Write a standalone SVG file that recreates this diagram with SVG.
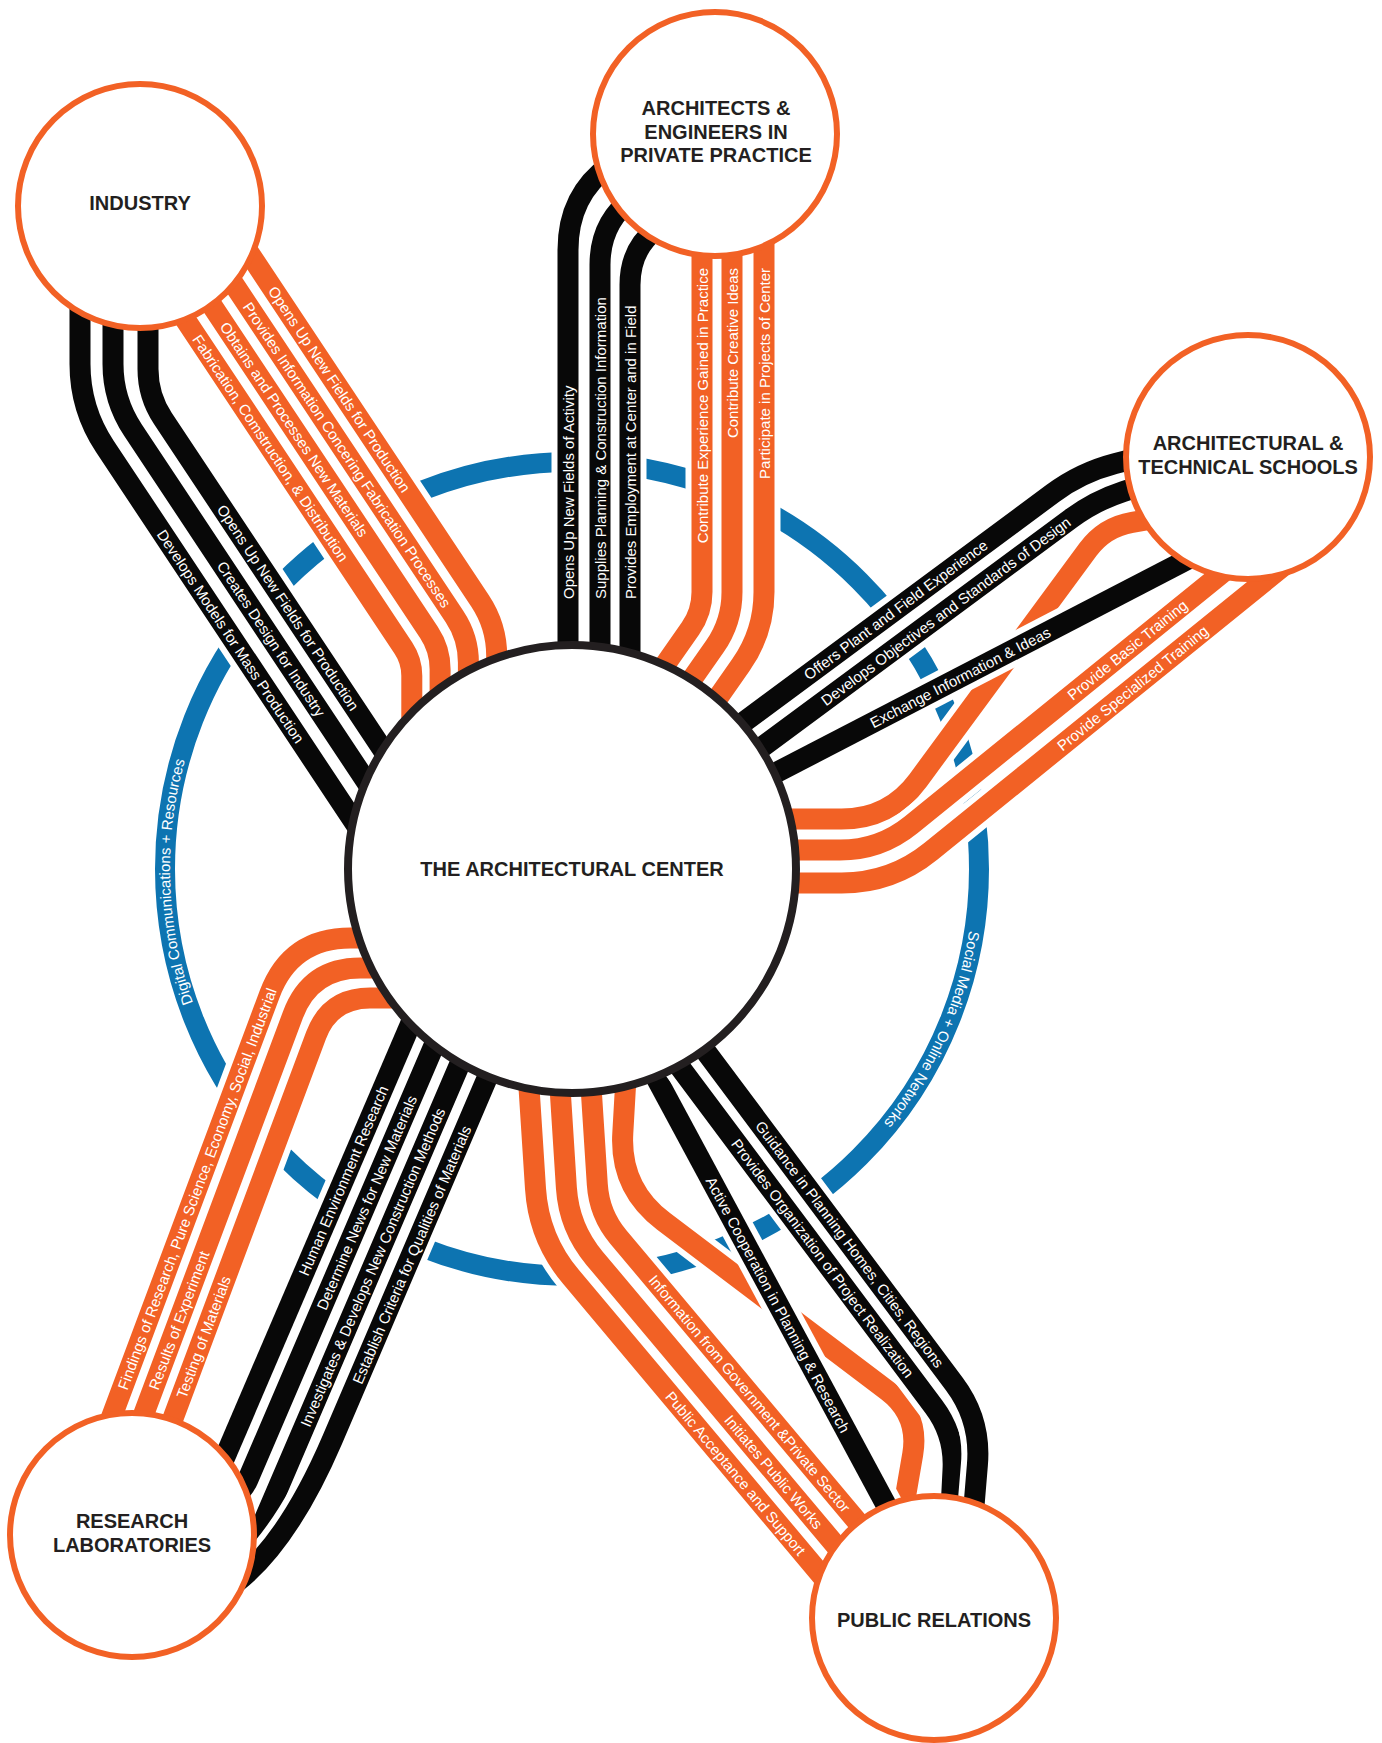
<svg xmlns="http://www.w3.org/2000/svg" xmlns:xlink="http://www.w3.org/1999/xlink" width="1382" height="1743" viewBox="0 0 1382 1743">
<style>
.case{fill:none;stroke:#fff;stroke-width:33;stroke-linejoin:round}
.or{fill:none;stroke:#f26125;stroke-width:21;stroke-linejoin:round}
.bk{fill:none;stroke:#080808;stroke-width:21;stroke-linejoin:round}
.lbl{font-family:"Liberation Sans",Arial,Helvetica,sans-serif;font-size:15px;fill:#fff;dominant-baseline:central}
.end{text-anchor:end}
.rt{font-family:"Liberation Sans",Arial,Helvetica,sans-serif;font-size:15px;fill:#fff;text-anchor:middle}
.node{fill:#fff;stroke:#f26125;stroke-width:6}
.nt{font-family:"Liberation Sans",Arial,Helvetica,sans-serif;font-size:20px;font-weight:bold;fill:#231f20;text-anchor:middle}
</style>
<defs>
<path id="io1" d="M231.3,226.2 L480.1,601 Q496.7,626 496.7,656 L496.7,760"/>
<path id="io2" d="M203,237.8 L454.6,616.8 Q468.4,637.6 468.4,662.6 L468.4,770"/>
<path id="io3" d="M174.7,249.4 L429,632.5 Q440.1,649.2 440.1,669.2 L440.1,780"/>
<path id="io4" d="M146.4,261 L403.5,648.3 Q411.8,660.8 411.8,675.8 L411.8,790"/>
<path id="ib1" d="M80,290 L80,364 Q80,409 104.9,446.5 L378.6,858.8"/>
<path id="ib2" d="M113,300 L113,364 Q113,400 132.9,430 L400.6,833.2"/>
<path id="ib3" d="M148,300 L148,369 Q148,396 162.9,418.5 L424.5,812.5"/>
<path id="ab1" d="M568,720 L568,250 Q568,195 610,165 L650,140"/>
<path id="ab2" d="M600,720 L600,265 Q600,222 633,198 L665,175"/>
<path id="ab3" d="M630,720 L630,285 Q630,250 655,230 L680,210"/>
<path id="ao1" d="M702,200 L702,592 Q702,612 690.5,628.4 L615.9,734.9"/>
<path id="ao2" d="M732,200 L732,592 Q732,622 714.8,646.6 L645.9,744.9"/>
<path id="ao3" d="M764,200 L764,592 Q764,632 741,664.8 L677.9,754.9"/>
<path id="sb1" d="M696.8,756.9 L1052.9,493.3 Q1081,472.5 1114.9,463.7 L1163.3,451.2"/>
<path id="sb2" d="M723.2,775.8 L1070.9,518.6 Q1095,500.7 1123.5,491.4 L1171,475.9"/>
<path id="sb3" d="M706,809 L1250,527"/>
<path id="so1" d="M760,819 L841.5,819 Q889.5,819 918,780.4 L1088,549.5 Q1104.6,527 1132.2,522.3 L1175,515"/>
<path id="so2" d="M760,850 L840,850 Q880,850 911.1,824.8 L1245.2,554.4"/>
<path id="so3" d="M770,883 L841.7,883 Q891.7,883 930.6,851.5 L1284.1,565.4"/>
<path id="ro1" d="M97,1456 L269.6,994.2 Q290.6,938 350.6,938 L420,938"/>
<path id="ro2" d="M124.2,1466.4 L292.9,1014.9 Q310.4,968 360.4,968 L425,968"/>
<path id="ro3" d="M151.3,1476.5 L316,1035.5 Q330,998 370,998 L435,998"/>
<path id="rb1" d="M429.4,980 L216.3,1477.1"/>
<path id="rb2" d="M460,985 L247.7,1480 Q239.1,1500 200,1520"/>
<path id="rb3" d="M489.4,995 L264.3,1520 Q251.5,1550 215,1575"/>
<path id="rb4" d="M518.4,1005 L332.2,1440 Q272,1580 195,1605"/>
<path id="pk1" d="M622,1014.4 L905,1540"/>
<path id="pk2" d="M634.9,1006.9 L934,1407 Q955,1435 953,1470 L950,1530"/>
<path id="pk3" d="M660.1,990.4 L954.3,1384 Q981.3,1420 977.4,1464.8 L972,1530"/>
<path id="po1" d="M522.4,985 L535.5,1188.6 Q538.7,1238.5 570.9,1276.8 L840.9,1598.5"/>
<path id="po2" d="M553.5,985 L566.4,1187.9 Q569,1227.8 594.7,1258.4 L871.2,1587.8"/>
<path id="po3" d="M584.5,985 L597.3,1184.3 Q599.2,1214.2 618.5,1237.2 L901.4,1574.2"/>
<path id="po4" d="M631.3,985 L622.8,1133.1 Q619.5,1188 663.3,1221.2 L887.6,1390.8 Q919.5,1415 912.7,1454.4 L900.8,1523.4"/>
<path id="arcL" d="M194.2,1006.5 A402,402 0 0,1 194.2,731.5"/>
<path id="arcR" d="M967.9,799.2 A402,402 0 0,1 773,1217.1"/>
</defs>

<g id="network-ring">
<circle cx="572" cy="869" r="407" fill="none" stroke="#0d74b1" stroke-width="20"/>
<text class="rt"><textPath href="#arcL" startOffset="127">Digital Communications + Resources</textPath></text>
<text class="rt"><textPath href="#arcR" startOffset="238.5">Social Media + Online Networks</textPath></text>
</g>

<g id="connectors">
<g id="industry-links">
<use href="#io1" class="case"/><use href="#io1" class="or"/>
<use href="#io2" class="case"/><use href="#io2" class="or"/>
<use href="#io3" class="case"/><use href="#io3" class="or"/>
<use href="#io4" class="case"/><use href="#io4" class="or"/>
<use href="#ib1" class="case"/><use href="#ib1" class="bk"/>
<use href="#ib2" class="case"/><use href="#ib2" class="bk"/>
<use href="#ib3" class="case"/><use href="#ib3" class="bk"/>
</g>
<g id="architects-links">
<use href="#ab1" class="case"/><use href="#ab1" class="bk"/>
<use href="#ab2" class="case"/><use href="#ab2" class="bk"/>
<use href="#ab3" class="case"/><use href="#ab3" class="bk"/>
<use href="#ao1" class="case"/><use href="#ao1" class="or"/>
<use href="#ao2" class="case"/><use href="#ao2" class="or"/>
<use href="#ao3" class="case"/><use href="#ao3" class="or"/>
</g>
<g id="research-links">
<use href="#ro1" class="case"/><use href="#ro1" class="or"/>
<use href="#ro2" class="case"/><use href="#ro2" class="or"/>
<use href="#ro3" class="case"/><use href="#ro3" class="or"/>
<use href="#rb1" class="case"/><use href="#rb1" class="bk"/>
<use href="#rb2" class="case"/><use href="#rb2" class="bk"/>
<use href="#rb3" class="case"/><use href="#rb3" class="bk"/>
<use href="#rb4" class="case"/><use href="#rb4" class="bk"/>
</g>
<g id="schools-links">
<use href="#so1" class="case"/><use href="#so1" class="or"/>
<use href="#so2" class="case"/><use href="#so2" class="or"/>
<use href="#so3" class="case"/><use href="#so3" class="or"/>
<use href="#sb1" class="case"/><use href="#sb1" class="bk"/>
<use href="#sb2" class="case"/><use href="#sb2" class="bk"/>
<use href="#sb3" class="case"/><use href="#sb3" class="bk"/>
</g>
<g id="public-relations-links">
<use href="#po1" class="case"/><use href="#po1" class="or"/>
<use href="#po2" class="case"/><use href="#po2" class="or"/>
<use href="#po3" class="case"/><use href="#po3" class="or"/>
<use href="#po4" class="case"/><use href="#po4" class="or"/>
<use href="#pk1" class="case"/><use href="#pk1" class="bk"/>
<use href="#pk2" class="case"/><use href="#pk2" class="bk"/>
<use href="#pk3" class="case"/><use href="#pk3" class="bk"/>
</g>

<g id="link-labels">
<text class="lbl" transform="translate(272.2,287.8) rotate(56.4)">Opens Up New Fields for Production</text>
<text class="lbl" transform="translate(246.8,303.8) rotate(56.4)">Provides Information Concering Fabrication Processes</text>
<text class="lbl" transform="translate(223.9,323.5) rotate(56.4)">Obtains and Processes New Materials</text>
<text class="lbl" transform="translate(196.3,336.3) rotate(56.4)">Fabrication, Comstruction, &amp; Distribution</text>
<text class="lbl" transform="translate(220.8,506.1) rotate(56.4)">Opens Up New Fields for Production</text>
<text class="lbl" transform="translate(220.8,562.8) rotate(56.4)">Creates Design for Industry</text>
<text class="lbl" transform="translate(160.8,531.1) rotate(56.4)">Develops Models for Mass Production</text>

<text class="lbl" transform="translate(568,599) rotate(-90)">Opens Up New Fields of Activity</text>
<text class="lbl" transform="translate(600,599) rotate(-90)">Supplies Planning &amp; Construction Information</text>
<text class="lbl" transform="translate(630,599) rotate(-90)">Provides Employment at Center and in Field</text>
<text class="lbl end" transform="translate(702,268) rotate(-90)">Contribute Experience Gained in Practice</text>
<text class="lbl end" transform="translate(732,268) rotate(-90)">Contribute Creative Ideas</text>
<text class="lbl end" transform="translate(764,268) rotate(-90)">Participate in Projects of Center</text>

<text class="lbl" transform="translate(805.6,676.3) rotate(-36.5)">Offers Plant and Field Experience</text>
<text class="lbl" transform="translate(822.7,702.2) rotate(-36.5)">Develops Objectives and Standards of Design</text>
<text class="lbl" transform="translate(871,723.5) rotate(-27.4)">Exchange Information &amp; Ideas</text>
<text class="lbl" transform="translate(1069.2,696.8) rotate(-39)">Provide Basic Training</text>
<text class="lbl" transform="translate(1059,747.6) rotate(-39)">Provide Specialized Training</text>

<text class="lbl" transform="translate(122.1,1389.1) rotate(-69.5)">Findings of Research, Pure Science, Economy, Social, Industrial</text>
<text class="lbl" transform="translate(153.1,1389.1) rotate(-69.5)">Results of Experiment</text>
<text class="lbl" transform="translate(180.8,1397.6) rotate(-69.5)">Testing of Materials</text>
<text class="lbl" transform="translate(303,1274.9) rotate(-66.8)">Human Environment Research</text>
<text class="lbl" transform="translate(321,1309.2) rotate(-66.8)">Determine News for New Materials</text>
<text class="lbl" transform="translate(304.6,1425.9) rotate(-66.8)">Investigates &amp; Develops New Construction Methods</text>
<text class="lbl" transform="translate(356.6,1383.2) rotate(-66.8)">Establish Criteria for Qualities of Materials</text>

<text class="lbl" transform="translate(710,1178) rotate(61.8)">Active Cooperation in Planning &amp; Research</text>
<text class="lbl" transform="translate(734.9,1140.7) rotate(53.2)">Provides Organization of Project Realization</text>
<text class="lbl" transform="translate(758.9,1122.6) rotate(53.2)">Guidance in Planning Homes, Cities, Regions</text>
<text class="lbl" transform="translate(651.9,1277) rotate(50)">Information from Government &amp;Private Sector</text>
<text class="lbl" transform="translate(727.8,1417) rotate(50)">Initiates Public Works</text>
<text class="lbl" transform="translate(668.7,1393.4) rotate(50)">Public Acceptance and Support</text>
</g>
</g>

<g id="center">
<circle cx="572" cy="869" r="224" fill="#fff" stroke="#231f20" stroke-width="8"/>
<text class="nt" x="572" y="876">THE ARCHITECTURAL CENTER</text>
</g>
<g id="industry">
<circle class="node" cx="140" cy="206" r="122"/>
<text class="nt" x="140" y="210">INDUSTRY</text>
</g>
<g id="architects">
<circle class="node" cx="715" cy="134" r="122"/>
<text class="nt" x="716" y="115">ARCHITECTS &amp;</text>
<text class="nt" x="716" y="138.5">ENGINEERS IN</text>
<text class="nt" x="716" y="162">PRIVATE PRACTICE</text>
</g>
<g id="schools">
<circle class="node" cx="1248" cy="457" r="122"/>
<text class="nt" x="1248" y="450">ARCHITECTURAL &amp;</text>
<text class="nt" x="1248" y="473.5">TECHNICAL SCHOOLS</text>
</g>
<g id="research">
<circle class="node" cx="132" cy="1535" r="122"/>
<text class="nt" x="132" y="1528">RESEARCH</text>
<text class="nt" x="132" y="1552">LABORATORIES</text>
</g>
<g id="public-relations">
<circle class="node" cx="934" cy="1618" r="122"/>
<text class="nt" x="934" y="1627">PUBLIC RELATIONS</text>
</g>
</svg>
